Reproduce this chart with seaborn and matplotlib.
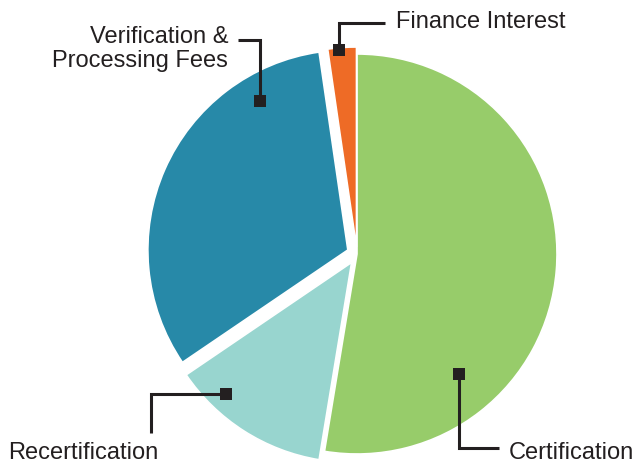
import matplotlib
matplotlib.use("Agg")
import matplotlib.pyplot as plt
import seaborn as sns

# Data
categories = ["Certification", "Recertification", "Verification &\nProcessing Fees", "Finance Interest"]
values = [52.6, 12.9, 32.2, 2.3]
colors = ["#97CC6A", "#98D5CF", "#2789A8", "#EE6B26"]
explode_px = [0, 10, 10, 7]

sns.set_theme(style="white")
plt.rcParams["font.family"] = ["Liberation Sans", "DejaVu Sans"]

W, H = 639, 463
fig = plt.figure(figsize=(W / 100, H / 100), dpi=100)
ax = fig.add_axes([0, 0, 1, 1])
ax.set_xlim(0, W)
ax.set_ylim(0, H)
ax.set_aspect("equal")
ax.axis("off")

def Y(y):
    return H - y

cx, cy, R = 357, 254, 200
ax.pie(values, colors=colors, explode=explode_px, startangle=90, counterclock=False,
       center=(cx, Y(cy)), radius=R, frame=True,
       wedgeprops=dict(edgecolor="white", linewidth=1.2))
ax.set_xlim(0, W)
ax.set_ylim(0, H)
ax.axis("off")

ink = "#231F20"
lw = 2.2
ms = 8
fs = 17

def leader(points, marker_pt):
    xs = [p[0] for p in points]
    ys = [Y(p[1]) for p in points]
    ax.plot(xs, ys, color=ink, lw=lw, solid_joinstyle="miter", solid_capstyle="butt")
    ax.plot([marker_pt[0]], [Y(marker_pt[1])], marker="s", color=ink, ms=ms, mew=0)

# Finance Interest
leader([(339, 50), (339, 23), (385, 23)], (339, 50))
ax.text(396, Y(28), categories[3], fontsize=fs, color=ink, ha="left", va="baseline")

# Verification & Processing Fees
leader([(238, 40), (260, 40), (260, 101)], (260, 101))
ax.text(228, Y(43), "Verification &", fontsize=fs, color=ink, ha="right", va="baseline")
ax.text(228, Y(67), "Processing Fees", fontsize=fs, color=ink, ha="right", va="baseline")

# Recertification
leader([(226, 394), (151, 394), (151, 433)], (226, 394))
ax.text(8, Y(459), categories[1], fontsize=fs, color=ink, ha="left", va="baseline")

# Certification
leader([(459, 374), (459, 448), (499, 448)], (459, 374))
ax.text(509, Y(459), categories[0], fontsize=fs, color=ink, ha="left", va="baseline")

fig.savefig("out.png", dpi=100, facecolor="white")
